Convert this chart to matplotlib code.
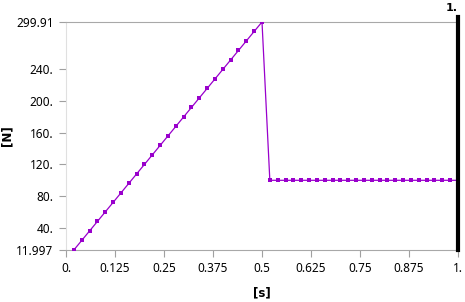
import matplotlib
matplotlib.use("Agg")
import matplotlib.pyplot as plt

plt.rcParams['font.family'] = ['Noto Sans', 'DejaVu Sans']

# time [s] and force [N]
time = [0.02, 0.04, 0.06, 0.08, 0.10, 0.12, 0.14, 0.16, 0.18, 0.20,
        0.22, 0.24, 0.26, 0.28, 0.30, 0.32, 0.34, 0.36, 0.38, 0.40,
        0.42, 0.44, 0.46, 0.48, 0.50,
        0.52, 0.54, 0.56, 0.58, 0.60, 0.62, 0.64, 0.66, 0.68, 0.70,
        0.72, 0.74, 0.76, 0.78, 0.80, 0.82, 0.84, 0.86, 0.88, 0.90,
        0.92, 0.94, 0.96, 0.98, 1.00]
force = [11.997, 24, 36, 48, 60, 72, 84, 96, 108, 120,
         132, 144, 156, 168, 180, 192, 204, 216, 228, 240,
         252, 264, 276, 288, 299.91,
         100, 100, 100, 100, 100, 100, 100, 100, 100, 100,
         100, 100, 100, 100, 100, 100, 100, 100, 100, 100,
         100, 100, 100, 100, 100]

xticks = [0, 0.125, 0.25, 0.375, 0.5, 0.625, 0.75, 0.875, 1.0]
xtick_labels = ["0.", "0.125", "0.25", "0.375", "0.5", "0.625", "0.75", "0.875", "1."]
yticks = [11.997, 40, 80, 120, 160, 200, 240, 299.91]
ytick_labels = ["11.997", "40.", "80.", "120.", "160.", "200.", "240.", "299.91"]
cursor = 1.0

fig = plt.figure(figsize=(4.65, 3.02), dpi=100)
ax = fig.add_axes([66/465, 52/302, 392/465, 228/302])

ax.plot(time, force, color="#9900cc", lw=0.9, marker="s", ms=3.0, mew=0, zorder=3)
ax.axvline(cursor, ymin=0, ymax=1.02, color="black", lw=3, clip_on=False, zorder=4)
ax.text(cursor, 1.04, "1.", transform=ax.get_xaxis_transform(), ha="right", va="bottom",
        fontsize=8, fontweight="bold", family="DejaVu Sans")

ax.set_xlim(0, 1)
ax.set_ylim(11.997, 299.91)
ax.set_xticks(xticks)
ax.set_xticklabels(xtick_labels)
ax.set_yticks(yticks)
ax.set_yticklabels(ytick_labels)
ax.tick_params(axis="both", direction="out", length=5, color="#a0a0a0", labelsize=8.5, pad=4)

ax.spines["right"].set_visible(False)
ax.spines["left"].set_color("#e0e0e0")
ax.spines["bottom"].set_color("#a8a8a8")
ax.spines["top"].set_color("#a8a8a8")

ax.set_xlabel("[s]", fontsize=8.5, fontweight="bold", family="DejaVu Sans", labelpad=8)
ax.set_ylabel("[N]", fontsize=8.5, fontweight="bold", family="DejaVu Sans", labelpad=2)

fig.savefig("out.png", dpi=100)
